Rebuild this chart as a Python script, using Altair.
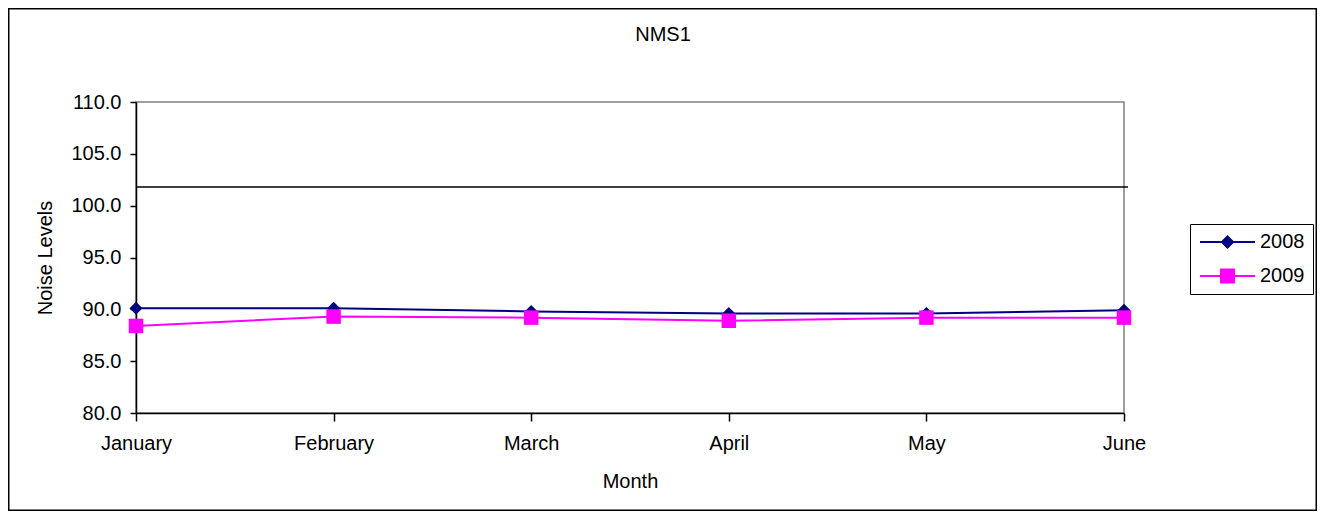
import altair as alt
import pandas as pd

months = ["January", "February", "March", "April", "May", "June"]
noise_2008 = [90.1, 90.1, 89.8, 89.6, 89.6, 89.9]
noise_2009 = [88.4, 89.3, 89.2, 88.9, 89.2, 89.2]
years = ["2008", "2009"]
limit_value = [101.8]
y_ticks = [80, 85, 90, 95, 100, 105, 110]

df = pd.DataFrame({
    "Month": months * 2,
    "Year": ["2008"] * len(months) + ["2009"] * len(months),
    "Noise": noise_2008 + noise_2009,
})
limit_df = pd.DataFrame({"limit": limit_value})
frame_df = pd.DataFrame({"k": [0]})
legend_df = pd.DataFrame({"Year": years})

FONT = "Liberation Sans"
colors = ["#000080", "#FF00FF"]
shapes = ["diamond", "square"]
sizes = [170, 210]

W, H = 988, 311
PL, PT, PR, PB = 128, 94, 193, 98

x = alt.X("Month:N", sort=months,
          scale=alt.Scale(type="point", padding=0),
          axis=alt.Axis(title="Month", labelAngle=0, tickSize=8, labelPadding=12,
                        titlePadding=18, labelFlush=False))
y = alt.Y("Noise:Q",
          scale=alt.Scale(domain=[80, 110], nice=False, zero=False),
          axis=alt.Axis(title="Noise Levels", values=y_ticks, format=".1f",
                        tickSize=6, labelPadding=9, titlePadding=15, grid=False))

# legend symbols: a filled thin bar (the line) plus the marker, all filled
bar = "M-1,-0.125L5.875,-0.125L5.875,0.125L-1,0.125Z"
path_2008 = bar + "M2.4375,-0.875L3.3125,0L2.4375,0.875L1.5625,0Z"
path_2009 = bar + "M1.5,-0.9375L3.375,-0.9375L3.375,0.9375L1.5,0.9375Z"

legend = alt.Legend(
    title=None, orient="none", legendX=1054, legendY=122,
    symbolSize=256, symbolStrokeWidth=0, symbolOpacity=1, labelOffset=42,
    labelFontSize=20, labelFont=FONT, labelColor="black",
    padding=8, rowPadding=14, strokeColor="black", fillColor="white",
)

layers = []
for yr, col, shp, sz in zip(years, colors, shapes, sizes):
    base = alt.Chart(df).transform_filter(alt.datum.Year == yr)
    layers.append(base.mark_line(strokeWidth=2, color=col).encode(x=x, y=y))
    layers.append(base.mark_point(filled=True, opacity=1, shape=shp, size=sz, color=col)
                  .encode(x=x, y=y))

# legend-only layer (its marks are placed outside the plot and clipped away)
legend_layer = alt.Chart(legend_df).mark_point(filled=True, clip=True).encode(
    x=alt.value(-2000), y=alt.value(-2000),
    color=alt.Color("Year:N", scale=alt.Scale(domain=years, range=colors), legend=legend),
    shape=alt.Shape("Year:N", scale=alt.Scale(domain=years, range=[path_2008, path_2009]),
                    legend=legend),
)

limit_rule = alt.Chart(limit_df).mark_rule(color="black", strokeWidth=1.5).encode(
    y=alt.Y("limit:Q"),
    x=alt.value(0), x2=alt.value(992),
)

frame = alt.Chart(frame_df).mark_rect(fill=None, stroke="black", strokeWidth=1.5).encode(
    x=alt.value(-PL + 0.75), x2=alt.value(W + PR - 0.75),
    y=alt.value(-PT + 0.75), y2=alt.value(H + PB - 0.75),
)

chart = alt.layer(frame, limit_rule, *layers, legend_layer).properties(
    width=W, height=H,
    title=alt.TitleParams("NMS1", font=FONT, fontSize=20, fontWeight="normal",
                          color="black", offset=-37, anchor="middle", frame="group", dx=33),
    autosize=alt.AutoSizeParams(type="none"),
    padding={"left": PL, "top": PT, "right": PR, "bottom": PB},
    background="white",
).configure_view(
    stroke="#808080", strokeWidth=1.5
).configure_axis(
    labelFont=FONT, titleFont=FONT, labelFontSize=20, titleFontSize=20,
    titleFontWeight="normal", labelColor="black", titleColor="black",
    domainColor="black", domainWidth=1.5, tickColor="black", tickWidth=1.5,
)

chart.save("out.html", embed_options={"renderer": "svg", "actions": False})
